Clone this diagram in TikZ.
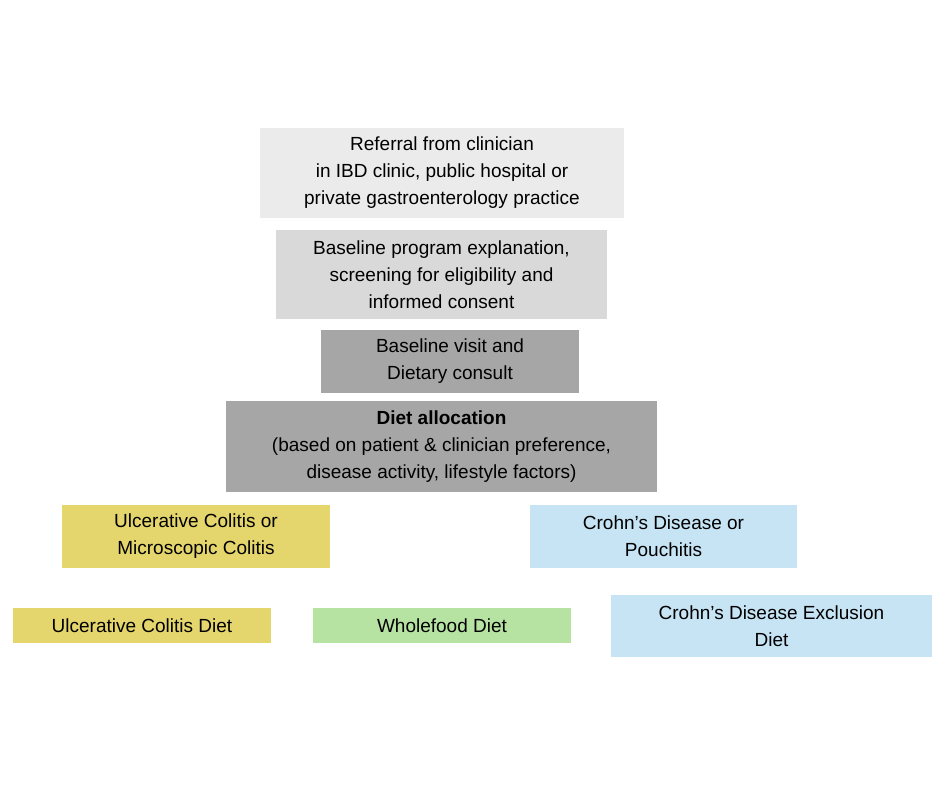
\documentclass[tikz,border=0pt]{standalone}
\usepackage{fontspec}
\setmainfont{Liberation Sans}
\definecolor{g1}{HTML}{EBEBEB}
\definecolor{g2}{HTML}{D9D9D9}
\definecolor{g3}{HTML}{A6A6A6}
\definecolor{yel}{HTML}{E5D56D}
\definecolor{blu}{HTML}{C6E4F4}
\definecolor{grn}{HTML}{B7E3A2}
\begin{document}
\begin{tikzpicture}[x=1pt,y=-1pt,
  box/.style={inner sep=0pt,align=center,font=\fontsize{19}{27}\selectfont}]
\useasboundingbox[fill=white] (0,0) rectangle (940,788);
\newcommand\bx[6]{\fill[#6] (#2,#3) rectangle (#4,#5); \node[box] (#1) at ({(#2+#4)/2},{(#3+#5)/2})}
\bx{ref}{260}{128}{624}{218}{g1} {Referral from clinician\\in IBD clinic, public hospital or\\private gastroenterology practice};
\bx{base}{276}{230}{607}{319}{g2} {Baseline program explanation,\\screening for eligibility and\\informed consent};
\bx{visit}{321}{330}{579}{393}{g3} {Baseline visit and\\Dietary consult};
\bx{alloc}{226}{401}{657}{492}{g3} {\textbf{Diet allocation}\\(based on patient \& clinician preference,\\disease activity, lifestyle factors)};
\bx{uc}{62}{505}{330}{568}{yel} {Ulcerative Colitis or\\Microscopic Colitis};
\bx{cd}{530}{505}{797}{568}{blu} {Crohn’s Disease or\\Pouchitis};
\bx{ucd}{13}{608}{271}{643}{yel} {Ulcerative Colitis Diet};
\bx{wf}{313}{608}{571}{643}{grn} {Wholefood Diet};
\bx{cded}{611}{595}{932}{657}{blu} {Crohn’s Disease Exclusion\\Diet};
\end{tikzpicture}
\end{document}
